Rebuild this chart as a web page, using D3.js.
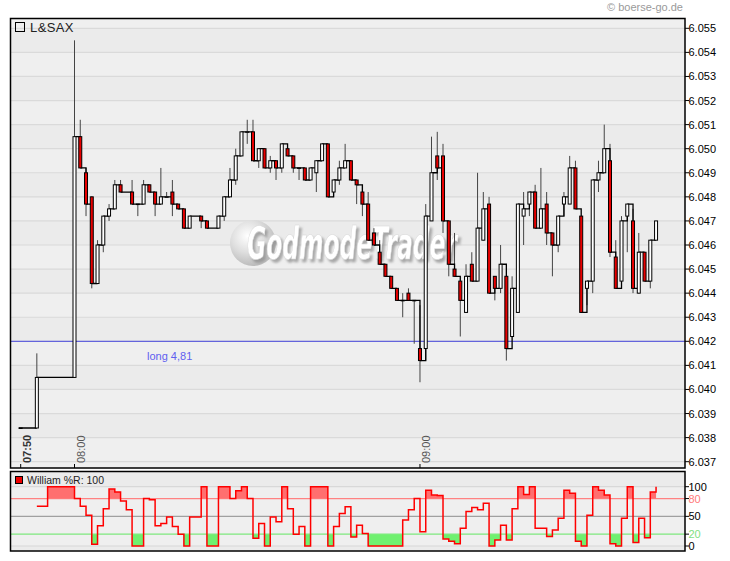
<!DOCTYPE html>
<html><head><meta charset="utf-8">
<script src="https://cdn.jsdelivr.net/npm/d3@7"></script>
<style>
body{margin:0;background:#fff;}
svg{display:block;font-family:"Liberation Sans",Arial,sans-serif;}
</style>
</head><body>
<svg id="chart" width="730" height="561"></svg>
<script>
// ---------- DATA ----------
const title = "L&SAX";
const copyright = "© boerse-go.de";
const indicatorLabel = "William %R: 100";
const markerLabel = "long 4,81";
const markerPrice = 6.042;
const watermarkText = "GodmodeTrader";

// minutes relative to 08:00
const minutes = [-10,-7,0,1,2,3,4,5,6,7,8,10,11,12,13,14,15,16,17,18,19,20,22,23,25,26,27,28,29,30,
 31,32,33,34,35,36,37,38,39,40,41,42,43,44,45,46,47,48,49,50,51,52,53,54,55,56,57,58,59,60,
 61,62,63,64,65,66,67,68,69,70,71,72,73,74,75,76,77,78,79,80,81,82,83,84,85,86,87,88,89,90,
 91,92,93,94,95,96,97,98,99,100,101];
const opens = [6.0384,6.0384,6.0405,6.0505,6.0490,6.0480,6.0444,6.0460,6.0472,6.0475,6.0485,6.0482,6.0477,6.0477,6.0485,6.0482,6.0477,6.0480,6.0482,6.0477,6.0475,6.0467,6.0472,6.0470,6.0467,6.0472,6.0480,6.0487,6.0497,6.0507,
 6.0507,6.0495,6.0500,6.0492,6.0495,6.0492,6.0500,6.0497,6.0492,6.0492,6.0487,6.0490,6.0495,6.0502,6.0482,6.0487,6.0492,6.0495,6.0487,6.0482,6.0477,6.0465,6.0457,6.0452,6.0447,6.0442,6.0437,6.0440,6.0437,6.0417,
 6.0417,6.0470,6.0497,6.0497,6.0470,6.0450,6.0445,6.0432,6.0452,6.0445,6.0462,6.0477,6.0447,6.0442,6.0447,6.0422,6.0432,6.0472,6.0477,6.0482,6.0467,6.0477,6.0465,6.0460,6.0477,6.0477,6.0492,6.0472,6.0442,6.0445,
 6.0487,6.0490,6.0495,6.0455,6.0445,6.0472,6.0470,6.0440,6.0457,6.0445,6.0462];
const highs = [6.0384,6.0415,6.0545,6.0512,6.0492,6.0480,6.0462,6.0472,6.0477,6.0487,6.0487,6.0487,6.0477,6.0487,6.0485,6.0482,6.0492,6.0482,6.0487,6.0477,6.0475,6.0472,6.0472,6.0470,6.0472,6.0480,6.0492,6.0500,6.0507,6.0512,
 6.0512,6.0500,6.0500,6.0497,6.0495,6.0502,6.0502,6.0497,6.0492,6.0492,6.0492,6.0495,6.0502,6.0502,6.0487,6.0495,6.0502,6.0495,6.0487,6.0485,6.0482,6.0467,6.0462,6.0452,6.0447,6.0442,6.0440,6.0442,6.0437,6.0435,
 6.0477,6.0505,6.0507,6.0502,6.0470,6.0465,6.0445,6.0452,6.0457,6.0490,6.0482,6.0480,6.0447,6.0460,6.0447,6.0447,6.0477,6.0482,6.0482,6.0485,6.0492,6.0482,6.0465,6.0472,6.0482,6.0497,6.0495,6.0472,6.0445,6.0487,
 6.0495,6.0510,6.0502,6.0462,6.0472,6.0477,6.0475,6.0465,6.0457,6.0462,6.0470];
const lows = [6.0384,6.0384,6.0405,6.0492,6.0472,6.0442,6.0444,6.0457,6.0470,6.0475,6.0482,6.0477,6.0472,6.0477,6.0482,6.0472,6.0477,6.0480,6.0472,6.0475,6.0467,6.0467,6.0467,6.0467,6.0467,6.0470,6.0480,6.0485,6.0497,6.0502,
 6.0495,6.0492,6.0492,6.0490,6.0487,6.0490,6.0497,6.0490,6.0487,6.0487,6.0487,6.0482,6.0495,6.0480,6.0480,6.0485,6.0492,6.0487,6.0477,6.0472,6.0462,6.0460,6.0452,6.0447,6.0442,6.0437,6.0430,6.0437,6.0419,6.0403,
 6.0412,6.0470,6.0487,6.0465,6.0447,6.0447,6.0422,6.0432,6.0445,6.0445,6.0462,6.0440,6.0437,6.0440,6.0412,6.0422,6.0432,6.0460,6.0472,6.0467,6.0467,6.0460,6.0447,6.0457,6.0472,6.0477,6.0475,6.0432,6.0435,6.0440,
 6.0482,6.0490,6.0455,6.0442,6.0445,6.0457,6.0440,6.0440,6.0445,6.0442,6.0462];
const closes = [6.0384,6.0405,6.0505,6.0492,6.0477,6.0444,6.0460,6.0472,6.0475,6.0485,6.0482,6.0477,6.0477,6.0485,6.0482,6.0477,6.0480,6.0480,6.0477,6.0475,6.0467,6.0472,6.0470,6.0467,6.0472,6.0480,6.0487,6.0497,6.0507,6.0507,
 6.0495,6.0500,6.0492,6.0495,6.0492,6.0502,6.0497,6.0492,6.0492,6.0487,6.0492,6.0495,6.0502,6.0480,6.0487,6.0492,6.0495,6.0487,6.0485,6.0477,6.0462,6.0460,6.0452,6.0447,6.0442,6.0437,6.0437,6.0437,6.0437,6.0412,
 6.0472,6.0490,6.0492,6.0470,6.0452,6.0447,6.0437,6.0447,6.0445,6.0467,6.0475,6.0440,6.0442,6.0452,6.0417,6.0442,6.0477,6.0475,6.0482,6.0467,6.0475,6.0465,6.0460,6.0472,6.0480,6.0492,6.0475,6.0432,6.0445,6.0487,
 6.0490,6.0500,6.0457,6.0442,6.0470,6.0477,6.0442,6.0457,6.0445,6.0462,6.0470];

const priceTicks = [6.037,6.038,6.039,6.040,6.041,6.042,6.043,6.044,6.045,6.046,6.047,6.048,6.049,6.050,6.051,6.052,6.053,6.054,6.055];
const timeTickLabels = ["07:50","08:00","09:00"];
const timeTickMinutes = [-10,0,60];

// Williams %R, one value per minute from -7 to 101
const wrMinutes = d3.range(-7,102);
const wrValues = [67,67,100,100,100,100,100,
 80,67,52,3,34,63,96,91,76,61,0,0,80,78,34,38,49,33,20,0,49,49,100,0,0,100,100,80,93,100,
 80,13,38,0,49,41,100,63,20,33,0,100,100,100,0,33,55,66,15,35,21,0,0,0,0,0,0,44,61,80,24,
 94,86,85,12,8,4,30,58,65,61,72,0,10,35,10,63,100,87,100,30,30,16,27,47,94,89,8,0,52,100,
 94,86,4,0,47,100,6,47,14,91,100];
const wrTicks = [100,80,50,20,0];
const wrTickColors = ["#000","#ff7b7b","#000","#7fe07f","#000"];

// ---------- LAYOUT ----------
const svg = d3.select("#chart");
const L = 10.5, R = 685, T1 = 18.5, B1 = 468, T2 = 471.5, B2 = 551;

const x = d3.scaleLinear().domain([-10, 0, 101]).range([20.7, 74.5, 74.5 + 101*5.758]);
const y = d3.scaleLinear().domain([6.037, 6.055]).range([461.7, 28.3]);
const yw = d3.scaleLinear().domain([0, 100]).range([546, 486.7]);

const defs = svg.append("defs");
defs.append("clipPath").attr("id","clipMain").append("rect").attr("x",L).attr("y",T1).attr("width",R-L).attr("height",B1-T1);
defs.append("clipPath").attr("id","clipInd").append("rect").attr("x",L).attr("y",T2).attr("width",R-L).attr("height",B2-T2);
const rg = defs.append("radialGradient").attr("id","wmg").attr("cx","38%").attr("cy","35%").attr("r","65%");
rg.append("stop").attr("offset","0%").attr("stop-color","#ffffff");
rg.append("stop").attr("offset","55%").attr("stop-color","#dedede");
rg.append("stop").attr("offset","100%").attr("stop-color","#bcbcbc");
const flt = defs.append("filter").attr("id","wmshadow").attr("x","-10%").attr("y","-20%").attr("width","130%").attr("height","150%");
flt.append("feDropShadow").attr("dx",2.5).attr("dy",3).attr("stdDeviation",1.2)
  .attr("flood-color","#8a8a8a").attr("flood-opacity",0.7);

// copyright
svg.append("text").attr("x",683).attr("y",11).attr("text-anchor","end")
  .attr("font-size",11).attr("fill","#9a9a9a").text(copyright);

// ---------- MAIN PANEL ----------
const gm = svg.append("g").attr("clip-path","url(#clipMain)");
gm.append("rect").attr("x",L).attr("y",T1).attr("width",R-L).attr("height",B1-T1).attr("fill","#efefef");
for (let i = 0; i < priceTicks.length - 1; i++) {
  if (i % 2 === 1) {
    gm.append("rect").attr("x",L).attr("width",R-L)
      .attr("y", y(priceTicks[i+1])).attr("height", y(priceTicks[i]) - y(priceTicks[i+1]))
      .attr("fill","#ebebeb");
  }
}
gm.selectAll("line.grid").data(priceTicks).enter().append("line")
  .attr("x1",L).attr("x2",R).attr("y1",d=>y(d)).attr("y2",d=>y(d))
  .attr("stroke","#dadada").attr("stroke-width",1.2);

// watermark
const wm = gm.append("g");
wm.append("circle").attr("cx",253).attr("cy",243).attr("r",23).attr("fill","url(#wmg)");
wm.append("text").attr("x",247).attr("y",259).attr("font-family","DejaVu Sans")
  .attr("font-weight","bold").attr("font-style","italic").attr("font-size",44)
  .attr("textLength",210).attr("lengthAdjust","spacingAndGlyphs")
  .attr("fill","#ffffff").attr("stroke","#d6d6d6").attr("stroke-width",0.6)
  .attr("filter","url(#wmshadow)").text(watermarkText);

// marker line
gm.append("line").attr("x1",L).attr("x2",R).attr("y1",y(markerPrice)).attr("y2",y(markerPrice))
  .attr("stroke","#6464dc").attr("stroke-width",1.2);
gm.append("text").attr("x",147).attr("y",y(markerPrice)+19).attr("font-size",11)
  .attr("fill","#5f5ff0").text(markerLabel);

const candles = minutes.map((t,i)=>({t, o:opens[i], h:highs[i], l:lows[i], c:closes[i]}));

// wicks
gm.selectAll("line.wick").data(candles).enter().append("line")
  .attr("x1",d=>x(d.t)).attr("x2",d=>x(d.t)).attr("y1",d=>y(d.h)).attr("y2",d=>y(d.l))
  .attr("stroke","#444").attr("stroke-width",1);

// step connectors
const p = d3.path();
candles.forEach((d,i)=>{
  if (i === 0) { p.moveTo(x(d.t)-2, y(d.c)); p.lineTo(x(d.t), y(d.c)); return; }
  const prev = candles[i-1];
  p.moveTo(x(prev.t), y(prev.c));
  p.lineTo(x(d.t), y(prev.c));
  p.lineTo(x(d.t), y(d.o));
});
gm.append("path").attr("d",p.toString()).attr("fill","none").attr("stroke","#000").attr("stroke-width",1.3);

// bodies
gm.selectAll("rect.body").data(candles).enter().append("rect")
  .attr("x",d=>x(d.t)-1.5).attr("width",3)
  .attr("y",d=>y(Math.max(d.o,d.c)))
  .attr("height",d=>Math.max(0.5, Math.abs(y(d.o)-y(d.c))))
  .attr("fill",d=>d.c>=d.o ? "#ffffff" : "#e80000")
  .attr("stroke","#000").attr("stroke-width",1);

// title legend
gm.append("rect").attr("x",15.5).attr("y",22.5).attr("width",9).attr("height",9)
  .attr("fill","none").attr("stroke","#000").attr("stroke-width",1);
gm.append("text").attr("x",30).attr("y",31.5).attr("font-size",13).attr("fill","#222")
  .attr("letter-spacing",0.4).text(title);

// time ticks
timeTickMinutes.forEach((t,i)=>{
  gm.append("line").attr("x1",x(t)).attr("x2",x(t)).attr("y1",B1).attr("y2",B1-4).attr("stroke","#000");
  gm.append("text").attr("transform",`translate(${x(t)+10},463) rotate(-90)`)
    .attr("font-size",11).attr("fill", i===0 ? "#333" : "#555")
    .attr("font-weight", i===0 ? "bold" : "normal").text(timeTickLabels[i]);
});

svg.append("rect").attr("x",L).attr("y",T1).attr("width",R-L).attr("height",B1-T1)
  .attr("fill","none").attr("stroke","#000").attr("stroke-width",1.5);

// price axis
const pa = svg.append("g");
priceTicks.forEach(v=>{
  pa.append("line").attr("x1",R).attr("x2",R+4).attr("y1",y(v)).attr("y2",y(v)).attr("stroke","#000");
  pa.append("text").attr("x",R+3.5).attr("y",y(v)+4).attr("font-size",11).attr("fill","#000").text(d3.format(".3f")(v));
});

// ---------- INDICATOR PANEL ----------
const gi = svg.append("g").attr("clip-path","url(#clipInd)");
gi.append("rect").attr("x",L).attr("y",T2).attr("width",R-L).attr("height",B2-T2).attr("fill","#efefef");
gi.append("rect").attr("x",L).attr("y",T2).attr("width",R-L).attr("height",yw(100)-T2).attr("fill","#ebebeb");
gi.append("rect").attr("x",L).attr("y",yw(0)).attr("width",R-L).attr("height",B2-yw(0)).attr("fill","#ebebeb");
[[100,"#d8d8d8"],[0,"#d8d8d8"],[50,"#a0a0a0"],[80,"#ff8282"],[20,"#7ee87e"]].forEach(([v,c])=>{
  gi.append("line").attr("x1",L).attr("x2",R).attr("y1",yw(v)).attr("y2",yw(v)).attr("stroke",c).attr("stroke-width",1.2);
});
const wr = wrMinutes.map((t,i)=>({t, v:wrValues[i]}));
gi.append("path").datum(wr)
  .attr("d", d3.area().curve(d3.curveStepAfter).x(d=>x(d.t)).y0(yw(80)).y1(d=>yw(Math.max(d.v,80))))
  .attr("fill","#ff6f6f");
gi.append("path").datum(wr)
  .attr("d", d3.area().curve(d3.curveStepAfter).x(d=>x(d.t)).y0(yw(20)).y1(d=>yw(Math.min(d.v,20))))
  .attr("fill","#6ff06f");
gi.append("path").datum(wr)
  .attr("d", d3.line().curve(d3.curveStepAfter).x(d=>x(d.t)).y(d=>yw(d.v)))
  .attr("fill","none").attr("stroke","#ff0000").attr("stroke-width",1.5);

gi.append("rect").attr("x",15.5).attr("y",476.5).attr("width",7).attr("height",7)
  .attr("fill","#ee0000").attr("stroke","#000").attr("stroke-width",1);
gi.append("text").attr("x",27).attr("y",483.5).attr("font-size",10.5).attr("fill","#222").text(indicatorLabel);

svg.append("rect").attr("x",L).attr("y",T2).attr("width",R-L).attr("height",B2-T2)
  .attr("fill","none").attr("stroke","#000").attr("stroke-width",1.5);

wrTicks.forEach((v,i)=>{
  svg.append("line").attr("x1",R).attr("x2",R+4).attr("y1",yw(v)).attr("y2",yw(v)).attr("stroke","#000");
  svg.append("text").attr("x",R+3.5).attr("y",yw(v)+4).attr("font-size",11).attr("fill",wrTickColors[i]).text(v);
});
</script>
</body></html>
